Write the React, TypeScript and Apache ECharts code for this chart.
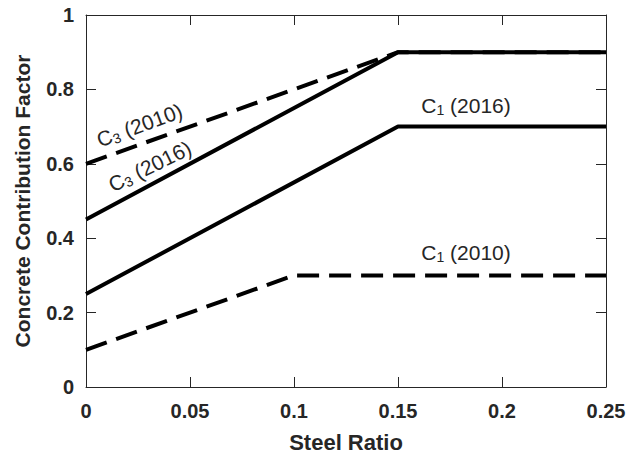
import React, { useEffect, useRef } from 'react';
import * as echarts from 'echarts';

// Data (x = steel ratio, y = concrete contribution factor)
const c3_2010: number[][] = [[0, 0.6], [0.15, 0.9], [0.25, 0.9]];
const c1_2010: number[][] = [[0, 0.1], [0.1, 0.3], [0.25, 0.3]];
const c3_2016: number[][] = [[0, 0.45], [0.15, 0.9], [0.25, 0.9]];
const c1_2016: number[][] = [[0, 0.25], [0.15, 0.7], [0.25, 0.7]];

// Annotation labels: subscript, year, anchor in data coords, angle (deg)
const labelSubs = ['3', '3', '1', '1'];
const labelYears = ['2010', '2016', '2016', '2010'];
const labelX = [0.026, 0.031, 0.1827, 0.1827];
const labelY = [0.700, 0.590, 0.752, 0.358];
const labelAngle = [20, 26, 0, 0];

const AXIS = '#262626';
const FONT = '"Liberation Sans", Arial, Helvetica, sans-serif';

export default function App() {
  const ref = useRef<HTMLDivElement>(null);
  useEffect(() => {
    document.body.style.margin = '0';
    if (!ref.current) return;
    const chart = echarts.init(ref.current, null, { renderer: 'svg' });
    const axisCommon = {
      type: 'value' as const,
      axisLine: { show: true, onZero: false, lineStyle: { color: AXIS, width: 1 } },
      axisTick: { show: true, inside: true, length: 10, lineStyle: { color: AXIS, width: 1 } },
      splitLine: { show: false },
    };
    const lineSeries = (data: number[][], dashed: boolean) => ({
      type: 'line' as const,
      data,
      showSymbol: false,
      symbol: 'none',
      silent: true,
      lineStyle: {
        color: '#000',
        width: 4,
        type: dashed ? [22, 10] : 'solid',
        cap: 'butt',
      },
    });
    chart.setOption({
      animation: false,
      grid: { left: 86, top: 15, right: 27, bottom: 71, containLabel: false },
      xAxis: [
        {
          ...axisCommon,
          min: 0,
          max: 0.25,
          interval: 0.05,
          position: 'bottom',
          name: 'Steel Ratio',
          nameLocation: 'middle',
          nameGap: 44,
          nameTextStyle: { fontFamily: FONT, fontWeight: 'bold', fontSize: 22, color: AXIS },
          axisLabel: { fontFamily: FONT, fontWeight: 'bold', fontSize: 20, color: AXIS, margin: 14 },
        },
        {
          ...axisCommon,
          min: 0,
          max: 0.25,
          interval: 0.05,
          position: 'top',
          axisLabel: { show: false },
        },
      ],
      yAxis: [
        {
          ...axisCommon,
          min: 0,
          max: 1,
          interval: 0.2,
          position: 'left',
          name: 'Concrete Contribution Factor',
          nameLocation: 'middle',
          nameGap: 53,
          nameTextStyle: { fontFamily: FONT, fontWeight: 'bold', fontSize: 21, color: AXIS },
          axisLabel: { fontFamily: FONT, fontWeight: 'bold', fontSize: 20, color: AXIS, margin: 12 },
        },
        {
          ...axisCommon,
          min: 0,
          max: 1,
          interval: 0.2,
          position: 'right',
          axisLabel: { show: false },
        },
      ],
      series: [
        lineSeries(c3_2010, true),
        lineSeries(c1_2010, true),
        lineSeries(c3_2016, false),
        lineSeries(c1_2016, false),
      ],
    });

    const graphics = labelSubs.map((sub, i) => {
      const p = chart.convertToPixel({ gridIndex: 0 }, [labelX[i], labelY[i]]) as number[];
      return {
        type: 'text',
        x: p[0],
        y: p[1],
        rotation: (labelAngle[i] * Math.PI) / 180,
        silent: true,
        style: {
          text: `{n|C}{s|${sub}}{n| (${labelYears[i]})}`,
          align: 'center',
          verticalAlign: 'middle',
          rich: {
            n: {
              fontFamily: FONT,
              fontSize: 21,
              lineHeight: 24,
              fill: AXIS,
              verticalAlign: 'top',
              padding: [0, 0, 8, 0],
            },
            s: {
              fontFamily: FONT,
              fontSize: 14,
              lineHeight: 24,
              fill: AXIS,
              verticalAlign: 'top',
              padding: [8, 0, 0, 0],
            },
          },
        },
      };
    });
    chart.setOption({ graphic: graphics });

    return () => chart.dispose();
  }, []);
  return <div ref={ref} style={{ width: 633, height: 458 }} />;
}
